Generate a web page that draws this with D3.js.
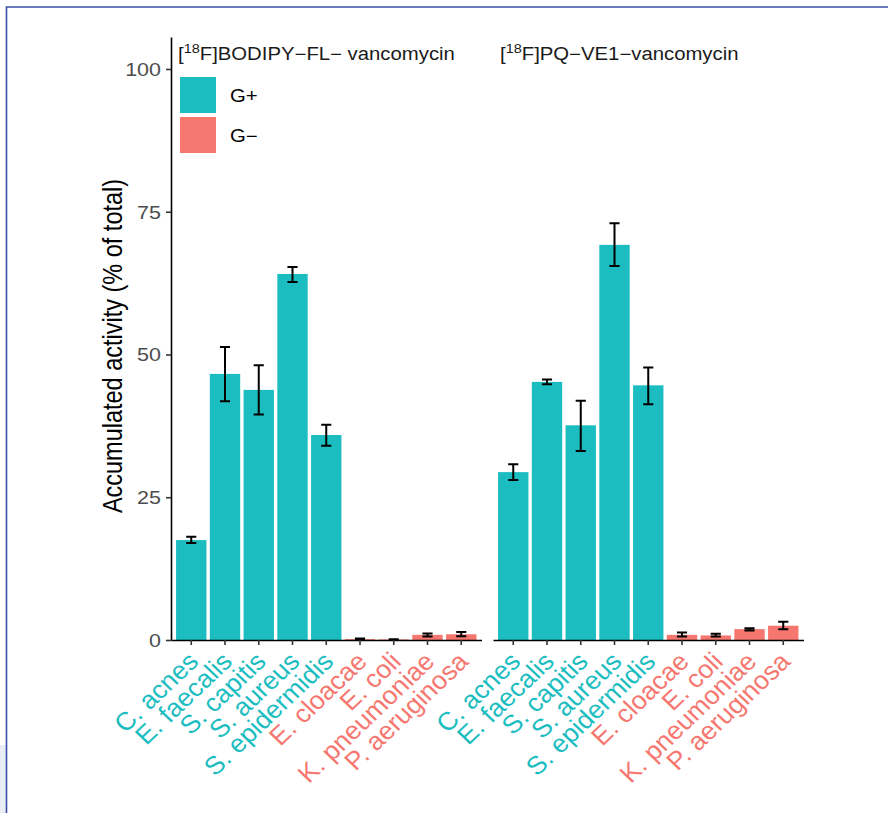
<!DOCTYPE html>
<html>
<head>
<meta charset="utf-8">
<script src="https://cdn.jsdelivr.net/npm/d3@7"></script>
<style>
  body { margin: 0; background: #fff; }
  text { font-family: "Liberation Sans", Arial, Helvetica, sans-serif; }
</style>
</head>
<body>
<svg id="viz"></svg>
<script>
var width = 888;
var height = 813;

// data
var species = ["C. acnes", "E. faecalis", "S. capitis", "S. aureus", "S. epidermidis",
               "E. cloacae", "E. coli", "K. pneumoniae", "P. aeruginosa"];
var gram = ["G+", "G+", "G+", "G+", "G+", "G\u2212", "G\u2212", "G\u2212", "G\u2212"];
var groups = ["G+", "G\u2212"];
var panelNames = ["BODIPY\u2212FL\u2212 vancomycin", "PQ\u2212VE1\u2212vancomycin"];

var bodipyMean = [17.5, 46.6, 43.8, 64.1, 35.9, 0.15, 0.1, 0.9, 1.0];
var bodipyLow  = [17.0, 41.8, 39.5, 62.7, 34.0, 0.05, 0.05, 0.6, 0.65];
var bodipyHigh = [18.1, 51.3, 48.1, 65.3, 37.7, 0.25, 0.15, 1.15, 1.4];

var pqMean = [29.4, 45.2, 37.6, 69.2, 44.6, 0.9, 0.8, 1.9, 2.5];
var pqLow  = [28.0, 44.8, 33.1, 65.5, 41.3, 0.6, 0.6, 1.65, 1.9];
var pqHigh = [30.8, 45.6, 41.9, 73.0, 47.7, 1.3, 1.1, 2.05, 3.2];

var yTicks = [0, 25, 50, 75, 100];

var color = d3.scaleOrdinal().domain(groups).range(["#1BBDC1", "#F5776F"]);
var sx = 1.155; // picture is a bit wider than tall

var svg = d3.select("#viz").attr("width", width).attr("height", height);

// frame of the screenshot
svg.append("rect").attr("x", 0).attr("y", 745).attr("width", 6).attr("height", 68).attr("fill", "#e9edf5");
svg.append("path").attr("d", "M6.5,813V7H888")
    .attr("fill", "none").attr("stroke", "#3a4faa").attr("stroke-width", 1.6);

var y = d3.scaleLinear().domain([0, 105.6]).range([640, 37]);

var panels = [
    {name: panelNames[0], x0: 171, x1: 481.5, mean: bodipyMean, low: bodipyLow, high: bodipyHigh},
    {name: panelNames[1], x0: 493, x1: 803.5, mean: pqMean, low: pqLow, high: pqHigh}
];

panels.forEach(function(p, pi) {
    var x = d3.scaleBand().domain(species).range([p.x0, p.x1])
        .paddingInner(0.1).paddingOuter(0.15);
    var g = svg.append("g");
    var rows = species.map(function(s, i) {
        return {sp: s, g: gram[i], v: p.mean[i], lo: p.low[i], hi: p.high[i]};
    });

    g.selectAll("rect.bar").data(rows).enter().append("rect")
        .attr("class", "bar")
        .attr("x", function(d) { return x(d.sp); })
        .attr("width", x.bandwidth())
        .attr("y", function(d) { return y(d.v); })
        .attr("height", function(d) { return y(0) - y(d.v); })
        .attr("fill", function(d) { return color(d.g); });

    // error bars
    var cap = x.step() * 0.15;
    g.selectAll("path.err").data(rows).enter().append("path")
        .attr("class", "err")
        .attr("d", function(d) {
            var cx = x(d.sp) + x.bandwidth() / 2;
            return "M" + (cx - cap) + "," + y(d.hi) + "H" + (cx + cap) +
                   "M" + cx + "," + y(d.hi) + "V" + y(d.lo) +
                   "M" + (cx - cap) + "," + y(d.lo) + "H" + (cx + cap);
        })
        .attr("fill", "none").attr("stroke", "#000").attr("stroke-width", 2);

    // x axis
    var xa = g.append("g").attr("transform", "translate(0," + y(0) + ")")
        .call(d3.axisBottom(x).tickSize(5).tickSizeOuter(0));
    xa.select(".domain").attr("stroke", "#000").attr("stroke-width", 1.6);
    xa.selectAll(".tick line").attr("stroke", "#333").attr("stroke-width", 1.6);
    xa.selectAll(".tick text")
        .attr("font-size", 25.5)
        .attr("fill", function(d, i) { return color(gram[i]); })
        .attr("text-anchor", "end")
        .attr("y", 0).attr("dy", "0.72em")
        .attr("transform", "translate(-5,10) scale(1.05,1) rotate(-45)");

    // strip title with superscript
    var t = g.append("text")
        .attr("transform", "translate(" + (p.x0 + 7) + ",59.5) scale(" + sx + ",1)")
        .attr("font-size", 17.6).attr("fill", "#1a1a1a");
    t.append("tspan").text("[");
    t.append("tspan").attr("font-size", 12.5).attr("dy", "-0.55em").text("18");
    t.append("tspan").attr("dy", "0.39em").text("F]" + p.name);

    if (pi === 0) {
        var ya = g.append("g").attr("transform", "translate(" + p.x0 + ",0)")
            .call(d3.axisLeft(y).tickValues(yTicks).tickSize(5).tickPadding(5).tickSizeOuter(0));
        ya.select(".domain").attr("stroke", "#000").attr("stroke-width", 1.6);
        ya.selectAll(".tick line").attr("stroke", "#333").attr("stroke-width", 1.6);
        ya.selectAll(".tick text")
            .attr("font-size", 18.6).attr("fill", "#4d4d4d")
            .attr("x", null).attr("dy", null)
            .attr("transform", "translate(-10,6.5) scale(" + sx + ",1)");
    }
});

// y axis title
svg.append("text")
    .attr("transform", "translate(122,346) scale(" + sx + ",1) rotate(-90)")
    .attr("text-anchor", "middle")
    .attr("font-size", 23.5).attr("fill", "#000")
    .text("Accumulated activity (% of total)");

// legend
var legend = svg.append("g");
groups.forEach(function(gr, i) {
    legend.append("rect")
        .attr("x", 180).attr("y", 77 + i * 40).attr("width", 36).attr("height", 36)
        .attr("fill", color(gr));
    legend.append("text")
        .attr("transform", "translate(230," + (101.5 + i * 40) + ") scale(" + sx + ",1)")
        .attr("font-size", 17.6).attr("fill", "#000")
        .text(gr);
});
</script>
</body>
</html>
